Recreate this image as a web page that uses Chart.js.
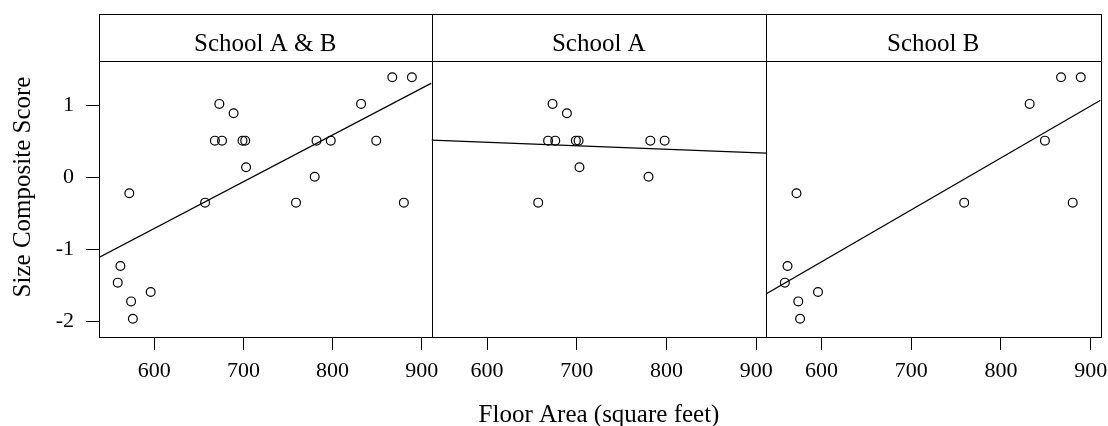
<!DOCTYPE html>
<html>
<head>
<meta charset="utf-8">
<script src="https://cdn.jsdelivr.net/npm/chart.js@4.4.0/dist/chart.umd.min.js"></script>
<style>
  html, body { margin: 0; padding: 0; background: #fff; overflow: hidden; }
  #wrap { position: relative; width: 1108px; height: 426px; }
  #wrap canvas { position: absolute; left: 0; top: 0; }
</style>
</head>
<body>
<div id="wrap">
  <canvas id="panelAB" width="1108" height="426"></canvas>
  <canvas id="panelA" width="1108" height="426"></canvas>
  <canvas id="panelB" width="1108" height="426"></canvas>
</div>
<script>
// floor area (sq ft) and size composite score per classroom
const schoolAArea  = [673, 689, 668, 676, 699, 702, 782, 798, 703, 780, 657];
const schoolAScore = [1.02, 0.89, 0.51, 0.51, 0.51, 0.51, 0.51, 0.51, 0.14, 0.01, -0.35];
const schoolBArea  = [867, 889, 832, 849, 880, 759, 572, 562, 559, 596, 574, 576];
const schoolBScore = [1.39, 1.39, 1.02, 0.51, -0.35, -0.35, -0.22, -1.23, -1.46, -1.59, -1.72, -1.96];

const xTicks = [600, 700, 800, 900];
const yTicks = [-2, -1, 0, 1];
const xRange = [538, 911];
const yRange = [-2.214, 1.615];

const SERIF = '"Liberation Serif", "Times New Roman", serif';
const Y_AXIS_W = 99;

function toPoints(xs, ys) {
  return xs.map((x, i) => ({ x: x, y: ys[i] }));
}

// least squares line over the x range of the panel
function fitLine(xs, ys) {
  const n = xs.length;
  const mx = xs.reduce((s, v) => s + v, 0) / n;
  const my = ys.reduce((s, v) => s + v, 0) / n;
  let sxy = 0, sxx = 0;
  xs.forEach((x, i) => { sxy += (x - mx) * (ys[i] - my); sxx += (x - mx) * (x - mx); });
  const b = sxy / sxx;
  return xRange.map(x => ({ x: x, y: my + b * (x - mx) }));
}

const px = v => Math.round(v) + 0.5;

// panel frame + strip with the panel name on top
const stripPlugin = {
  id: 'strip',
  afterDraw(chart, args, opts) {
    const { ctx, chartArea: a } = chart;
    const l = px(a.left), r = px(a.right), t = px(a.top), b = px(a.bottom), st = px(14);
    ctx.save();
    ctx.strokeStyle = '#000';
    ctx.lineWidth = 1;
    ctx.strokeRect(l, t, r - l, b - t);
    ctx.strokeRect(l, st, r - l, t - st);
    ctx.fillStyle = '#000';
    ctx.font = '25px ' + SERIF;
    ctx.textAlign = 'center';
    ctx.textBaseline = 'alphabetic';
    ctx.fillText(opts.text, (a.left + a.right) / 2, 51);
    if (opts.yTitle) {
      ctx.translate(30, 187);
      ctx.rotate(-Math.PI / 2);
      ctx.fillText(opts.yTitle, 0, 0);
    }
    if (opts.xTitle) {
      ctx.fillText(opts.xTitle, opts.xTitleX, 422);
    }
    ctx.restore();
  }
};

function panelChart(id, name, xs, ys, box, extra) {
  const showY = !!extra.showY;
  const yw = showY ? Y_AXIS_W : 0;
  return new Chart(document.getElementById(id), {
    type: 'scatter',
    data: {
      datasets: [
        {
          data: toPoints(xs, ys),
          pointStyle: 'circle',
          pointRadius: 4.4,
          pointHoverRadius: 4.4,
          pointBorderWidth: 1.2,
          borderColor: '#000',
          backgroundColor: 'rgba(0,0,0,0)'
        },
        {
          type: 'line',
          data: fitLine(xs, ys),
          borderColor: '#000',
          borderWidth: 1.2,
          pointRadius: 0,
          fill: false
        }
      ]
    },
    options: {
      responsive: false,
      animation: false,
      events: [],
      layout: {
        autoPadding: false,
        padding: { left: box.left - yw, right: 1108 - box.right, top: 61, bottom: 0 }
      },
      plugins: {
        legend: { display: false },
        tooltip: { enabled: false },
        strip: Object.assign({ text: name }, extra)
      },
      scales: {
        x: {
          type: 'linear',
          min: xRange[0],
          max: xRange[1],
          afterBuildTicks: s => { s.ticks = xTicks.map(v => ({ value: v })); },
          afterFit: s => { s.height = 89; s.paddingLeft = 0; s.paddingRight = 0; },
          grid: { drawOnChartArea: false, drawTicks: true, tickLength: 13, color: '#000' },
          border: { display: true, color: '#000' },
          ticks: {
            color: '#000',
            font: { family: SERIF, size: 22 },
            padding: 8,
            maxRotation: 0
          }
        },
        y: {
          type: 'linear',
          display: showY,
          min: yRange[0],
          max: yRange[1],
          afterBuildTicks: s => { s.ticks = yTicks.map(v => ({ value: v })); },
          afterFit: s => { s.width = yw; s.paddingTop = 0; s.paddingBottom = 0; },
          grid: { drawOnChartArea: false, drawTicks: true, tickLength: 13, color: '#000' },
          border: { display: true, color: '#000' },
          ticks: {
            color: '#000',
            font: { family: SERIF, size: 22 },
            padding: 12
          }
        }
      }
    },
    plugins: [stripPlugin]
  });
}

const allArea = schoolAArea.concat(schoolBArea);
const allScore = schoolAScore.concat(schoolBScore);

panelChart('panelAB', 'School A & B', allArea, allScore, { left: 99, right: 431.5 },
  { showY: true, yTitle: 'Size Composite Score' });
panelChart('panelA', 'School A', schoolAArea, schoolAScore, { left: 431.5, right: 766 },
  { xTitle: 'Floor Area (square feet)', xTitleX: 599 });
panelChart('panelB', 'School B', schoolBArea, schoolBScore, { left: 766, right: 1100.5 }, {});
</script>
</body>
</html>
